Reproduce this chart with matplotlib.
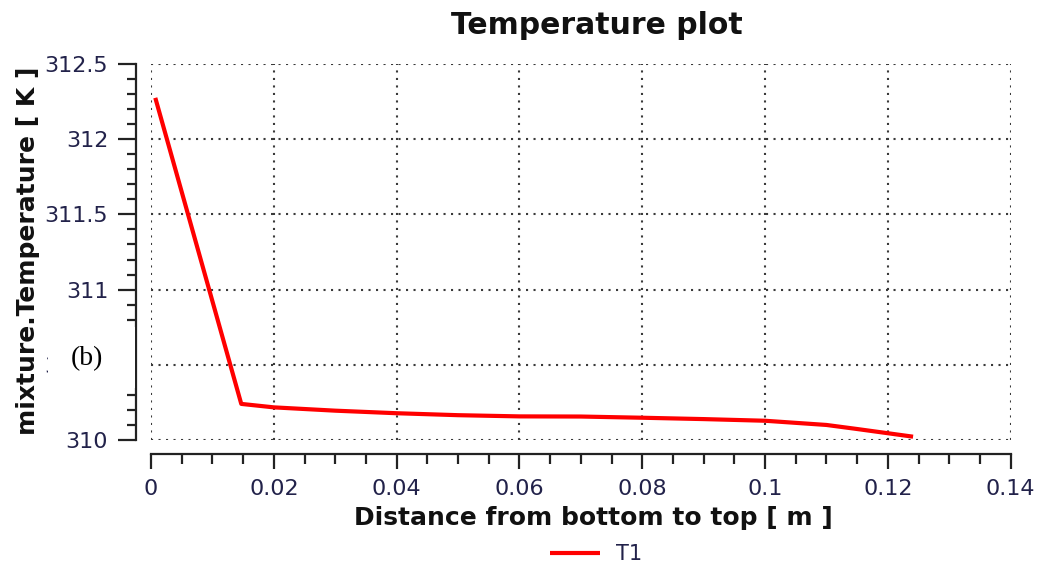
import numpy as np
import matplotlib
matplotlib.use('Agg')
import matplotlib.pyplot as plt
from matplotlib.ticker import MultipleLocator, FormatStrFormatter
from matplotlib.patches import Rectangle

# distance along the column [m] and mixture temperature [K]
dist = [0.0007, 0.0147, 0.02, 0.03, 0.04, 0.05, 0.06, 0.07, 0.08, 0.09, 0.1, 0.11, 0.115, 0.12, 0.1241]
temp = [312.275, 310.24, 310.217, 310.195, 310.178, 310.165, 310.157, 310.156, 310.148, 310.139,
        310.128, 310.100, 310.073, 310.045, 310.022]
series_name = 'T1'

xlim = (0, 0.14)
ylim = (310, 312.5)

label_col = '#22224a'

fig = plt.figure(figsize=(10.44, 5.65), dpi=100)
ax = fig.add_axes([151/1044, 1 - 440/565, (1010.7 - 151)/1044, (440 - 64)/565])

line, = ax.plot(dist, temp, color='#ff0000', linewidth=3, solid_capstyle='butt')

ax.set_xlim(*xlim)
ax.set_ylim(*ylim)

# offset axes, ticks pointing outward
ax.spines['right'].set_color('none')
ax.spines['top'].set_color('none')
ax.spines['left'].set_position(('outward', 10.8))
ax.spines['bottom'].set_position(('outward', 10))
for s in ('left', 'bottom'):
    ax.spines[s].set_linewidth(1.6)
    ax.spines[s].set_color('#222222')

ax.xaxis.set_major_locator(MultipleLocator(0.02))
ax.xaxis.set_minor_locator(MultipleLocator(0.005))
ax.yaxis.set_major_locator(MultipleLocator(0.5))
ax.yaxis.set_minor_locator(MultipleLocator(0.1))
ax.xaxis.set_major_formatter(FormatStrFormatter('%g'))
ax.yaxis.set_major_formatter(FormatStrFormatter('%g'))

ax.tick_params(axis='x', which='major', direction='out', length=11, width=1.6, color='#222222',
               pad=7, labelsize=16, labelcolor=label_col)
ax.tick_params(axis='x', which='minor', direction='out', length=7.5, width=1.6, color='#222222')
ax.tick_params(axis='y', which='major', direction='out', length=13, width=1.6, color='#222222',
               pad=7, labelsize=16, labelcolor=label_col)
ax.tick_params(axis='y', which='minor', direction='out', length=6.5, width=1.6, color='#222222')

ax.grid(True, which='major', linestyle=(0, (1, 2.6)), linewidth=1.5, color='#3a3a3a')

fig.text(597/1044, 1 - 25/565, 'Temperature plot', ha='center', va='center',
         fontsize=21.5, fontweight='bold', color='#111111')
fig.text(593/1044, 1 - 518/565, 'Distance from bottom to top [ m ]', ha='center', va='center',
         fontsize=18, fontweight='bold', color='#111111')
fig.text(28/1044, 1 - 251/565, 'mixture.Temperature [ K ]', ha='center', va='center',
         rotation=90, fontsize=18, fontweight='bold', color='#111111')

fig.legend([line], [series_name], loc='center', bbox_to_anchor=(596/1044, 1 - 554/565),
           frameon=False, fontsize=15, handlelength=2.4, handletextpad=0.75, labelcolor=label_col)

# panel tag box over the axis labels
fig.patches.append(Rectangle((48/1044, 1 - 388/565), (135 - 48)/1044, (388 - 327)/565,
                             transform=fig.transFigure, facecolor='white', edgecolor='none', zorder=5))
fig.text(87/1044, 1 - 359/565, '(b)', ha='center', va='center', fontsize=20,
         family='Liberation Serif', color='#000000', zorder=6)

fig.savefig('out.png', dpi=100)
plt.close(fig)
